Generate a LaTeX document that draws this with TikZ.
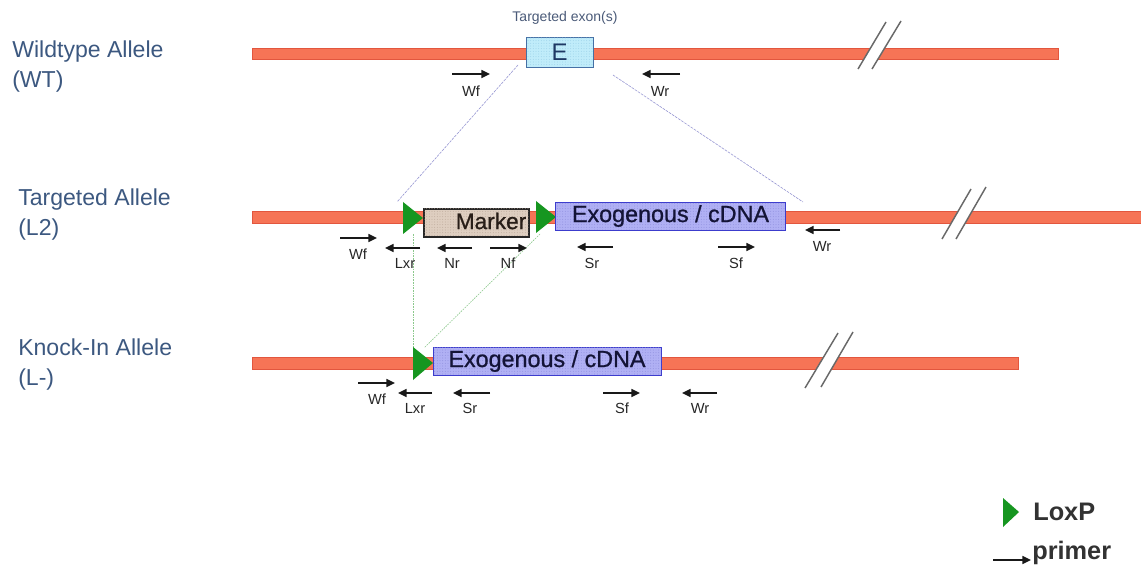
\documentclass[tikz,border=0pt]{standalone}
\usepackage{fontspec}
\setmainfont{Liberation Sans}
\newfontfamily\boxfont[FakeBold=0.9]{Liberation Sans}
\usetikzlibrary{arrows.meta,patterns.meta}

\definecolor{barfill}{RGB}{246,116,86}
\definecolor{bardraw}{RGB}{226,86,62}
\definecolor{exonfill}{RGB}{192,236,250}
\definecolor{exondots}{RGB}{150,205,230}
\definecolor{exondraw}{RGB}{70,112,165}
\definecolor{exontext}{RGB}{30,56,100}
\definecolor{markerfill}{RGB}{222,206,192}
\definecolor{markerdots}{RGB}{185,165,150}
\definecolor{markertext}{RGB}{40,30,24}
\definecolor{exofill}{RGB}{176,176,244}
\definecolor{exodots}{RGB}{140,140,220}
\definecolor{exodraw}{RGB}{60,60,205}
\definecolor{exotext}{RGB}{20,20,55}
\definecolor{loxgreen}{RGB}{22,150,32}
\definecolor{labelblue}{RGB}{60,88,128}
\definecolor{exonlabel}{RGB}{74,90,120}
\definecolor{guideblue}{RGB}{150,150,210}
\definecolor{guidegreen}{RGB}{140,200,140}
\definecolor{breakgray}{RGB}{105,105,105}
\definecolor{legendtext}{RGB}{50,50,50}

\tikzset{
  bar/.style={fill=barfill, draw=bardraw, line width=0.5pt},
  exonbox/.style={draw=exondraw, fill=exonfill, line width=0.7pt, inner sep=0pt,
    postaction={pattern={Dots[distance=2pt, radius=0.35pt]}, pattern color=exondots},
    text=exontext, font=\fontsize{18}{18}\selectfont},
  markerbox/.style={draw=black!85, fill=markerfill, line width=0.8pt, inner sep=0pt,
    postaction={pattern={Dots[distance=2pt, radius=0.35pt]}, pattern color=markerdots}},
  exobox/.style={draw=exodraw, fill=exofill, line width=0.7pt, inner sep=0pt,
    postaction={pattern={Dots[distance=2pt, radius=0.35pt]}, pattern color=exodots},
    text=exotext, font=\boxfont\fontsize{17.5}{17.5}\selectfont},
  loxp/.style={fill=loxgreen},
  primer/.style={line width=1.15pt, black!90, -{Triangle[length=6.5pt,width=6pt]}},
  plabel/.style={font=\fontsize{11}{11}\selectfont, text=black!85, inner sep=0pt},
  rowlabel/.style={font=\fontsize{17.3}{22.5}\selectfont, text=labelblue, align=left,
    anchor=west, inner sep=0pt},
  guide/.style={guideblue, line width=0.45pt, dash pattern=on 2pt off 0.8pt},
  guidegr/.style={guidegreen, line width=0.45pt, dash pattern=on 1.2pt off 0.8pt},
  breakline/.style={breakgray, line width=1.1pt},
  legendlabel/.style={font=\bfseries\fontsize{19}{19}\selectfont, text=legendtext,
    anchor=west, inner sep=0pt},
}

\begin{document}
\begin{tikzpicture}[x=0.75pt, y=-0.75pt]
\useasboundingbox (0,0) rectangle (1141,566);

% ---------- row labels ----------
\node[rowlabel] (wtlab) at (12,67) {Wildtype Allele\\(WT)};
\node[rowlabel] (l2lab) at (18,215) {Targeted Allele\\(L2)};
\node[rowlabel] (kilab) at (18,364.5) {Knock-In Allele\\(L-)};

% ---------- chromosome bars ----------
\path[bar] (252,48) rectangle (1058,59);
\path[bar] (252,211) rectangle (1145,223);
\path[bar] (252,357) rectangle (1018,369);

% ---------- break marks ----------
\fill[white] (858,69) -- (886,22) -- (901,21) -- (872,69) -- cycle;
\draw[breakline] (858,69) -- (886,22);
\draw[breakline] (872,69) -- (901,21);
\fill[white] (942,239) -- (971,189) -- (986,187) -- (956,239) -- cycle;
\draw[breakline] (942,239) -- (971,189);
\draw[breakline] (956,239) -- (986,187);
\fill[white] (805,388) -- (838,333) -- (853,332) -- (821,387) -- cycle;
\draw[breakline] (805,388) -- (838,333);
\draw[breakline] (821,387) -- (853,332);

% ---------- guide lines between alleles ----------
\coordinate (wtL) at (518,65);
\coordinate (wtR) at (613,75);
\coordinate (l2L) at (397,202);
\coordinate (l2R) at (803,202);
\coordinate (l2lox) at (413,234);
\coordinate (l2lox2) at (540,234);
\coordinate (kilox) at (413,352);
\coordinate (kiloxb) at (424,348);
\draw[guide] (wtL) -- (l2L);
\draw[guide] (wtR) -- (l2R);
\draw[guidegr] (l2lox) -- (kilox);
\draw[guidegr] (l2lox2) -- (kiloxb);

% ---------- wildtype allele ----------
\node[font=\fontsize{10.5}{10.5}\selectfont, text=exonlabel] (exonlab) at (565,18) {Targeted exon(s)};
\node[exonbox, minimum width=67*0.75pt, minimum height=30*0.75pt] (exon) at (559.5,52) {E};

\draw[primer] (452,74) coordinate (wfa1) -- (490,74) coordinate (wfb1);
\node[plabel] (wf1) at (471,91) {Wf};
\draw[primer] (680,74) coordinate (wra1) -- (642,74) coordinate (wrb1);
\node[plabel] (wr1) at (660,91) {Wr};

% ---------- targeted allele (L2) ----------
\node[markerbox, minimum width=105*0.75pt, minimum height=28*0.75pt] (marker) at (476.5,223) {};
\node[text=markertext, font=\boxfont\fontsize{17}{17}\selectfont, inner sep=0pt] (markertxt) at (491,221) {Marker};
\fill[loxp] (403,202) -- (423,218) -- (403,234) -- cycle;
\fill[loxp] (536,201) -- (556,217) -- (536,233) -- cycle;
\node[exobox, minimum width=230*0.75pt, minimum height=28*0.75pt] (exo2) at (670.5,216) {Exogenous / cDNA};

\draw[primer] (340,238) coordinate (wfa2) -- (377,238) coordinate (wfb2);
\node[plabel] (wf2) at (358,254) {Wf};
\draw[primer] (420,248) coordinate (lxa2) -- (385,248) coordinate (lxb2);
\node[plabel] (lx2) at (405,263) {Lxr};
\draw[primer] (472,248) coordinate (nra2) -- (437,248) coordinate (nrb2);
\node[plabel] (nr2) at (452,263) {Nr};
\draw[primer] (490,248) coordinate (nfa2) -- (527,248) coordinate (nfb2);
\node[plabel] (nf2) at (508,263) {Nf};
\draw[primer] (613,247) coordinate (sra2) -- (577,247) coordinate (srb2);
\node[plabel] (sr2) at (592,263) {Sr};
\draw[primer] (718,247) coordinate (sfa2) -- (755,247) coordinate (sfb2);
\node[plabel] (sf2) at (736,263) {Sf};
\draw[primer] (840,230) coordinate (wra2) -- (805,230) coordinate (wrb2);
\node[plabel] (wr2) at (822,246) {Wr};

% ---------- knock-in allele (L-) ----------
\fill[loxp] (413,347) -- (433,363) -- (413,380) -- cycle;
\node[exobox, minimum width=228*0.75pt, minimum height=28*0.75pt] (exo3) at (547,361) {Exogenous / cDNA};

\draw[primer] (358,383) coordinate (wfa3) -- (395,383) coordinate (wfb3);
\node[plabel] (wf3) at (377,399) {Wf};
\draw[primer] (432,393) coordinate (lxa3) -- (398,393) coordinate (lxb3);
\node[plabel] (lx3) at (415,408) {Lxr};
\draw[primer] (490,393) coordinate (sra3) -- (453,393) coordinate (srb3);
\node[plabel] (sr3) at (470,408) {Sr};
\draw[primer] (603,393) coordinate (sfa3) -- (640,393) coordinate (sfb3);
\node[plabel] (sf3) at (622,408) {Sf};
\draw[primer] (717,393) coordinate (wra3) -- (682,393) coordinate (wrb3);
\node[plabel] (wr3) at (700,408) {Wr};

% ---------- legend ----------
\fill[loxp] (1003,498) -- (1019,512) -- (1003,527) -- cycle;
\node[legendlabel] (loxlab) at (1033,512) {LoxP};
\draw[primer] (993,560) coordinate (lega) -- (1031,560) coordinate (legb);
\node[legendlabel] (primlab) at (1032,553) {primer};
\end{tikzpicture}
\end{document}
